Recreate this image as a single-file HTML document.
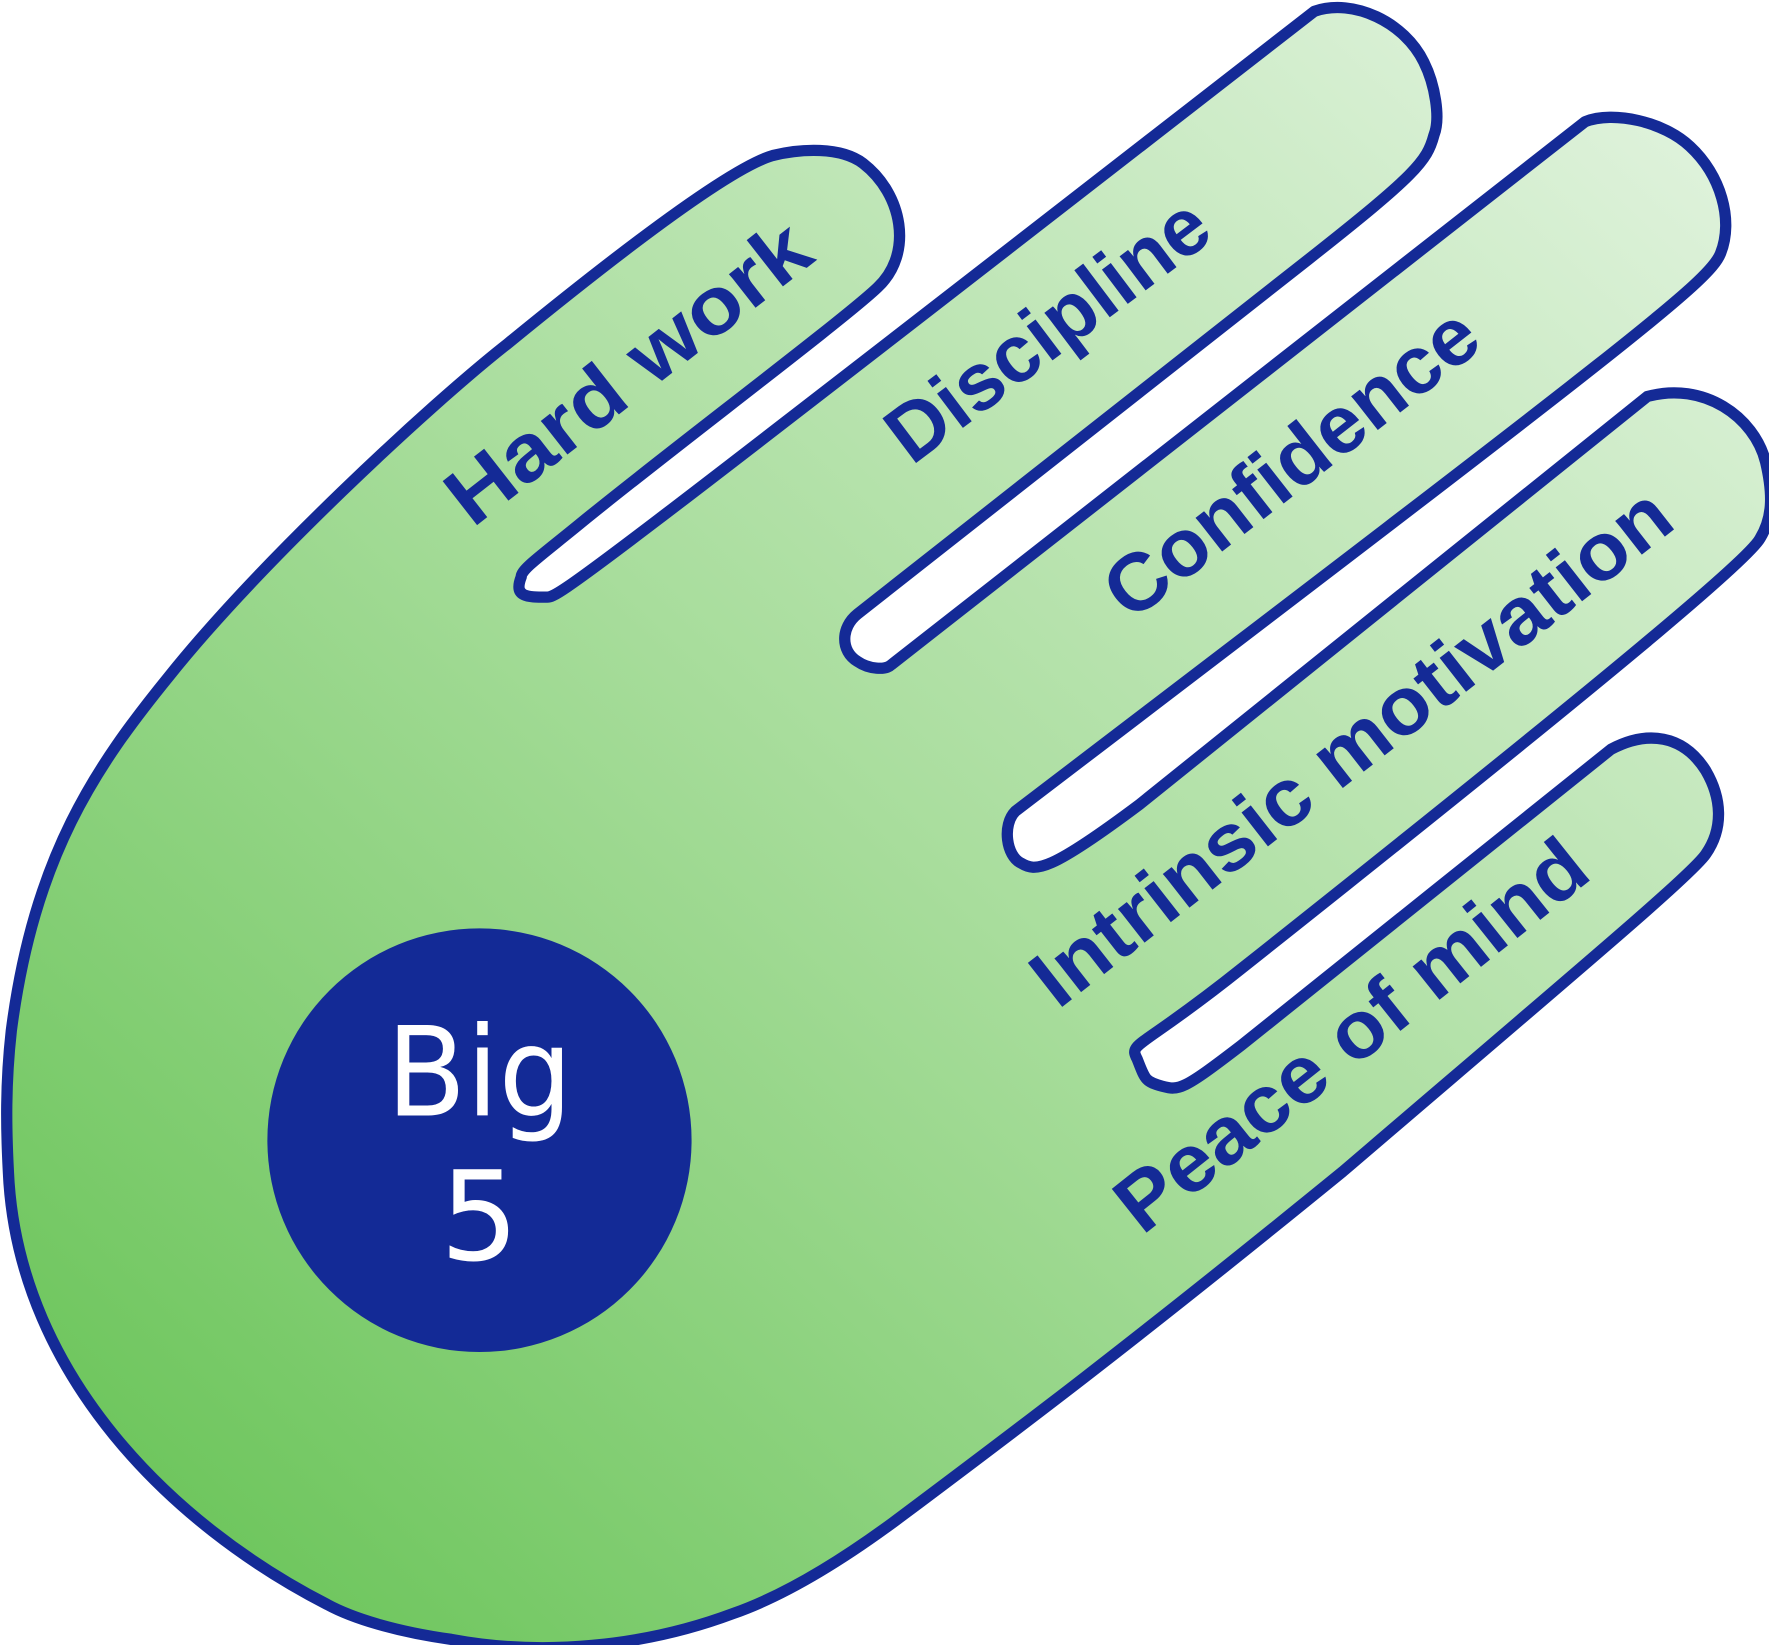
<!DOCTYPE html>
<html><head><meta charset="utf-8"><style>
html,body{margin:0;padding:0;background:#fff;}
svg{display:block;}
</style></head><body>
<svg width="1769" height="1645" viewBox="0 0 1568 1460" preserveAspectRatio="none" xmlns="http://www.w3.org/2000/svg">
<defs>
<linearGradient id="g" x1="0" y1="1" x2="1" y2="0">
<stop offset="0" stop-color="#62c150"/>
<stop offset="0.5" stop-color="#a8dd9c"/>
<stop offset="1" stop-color="#e6f5e4"/>
</linearGradient>
</defs>
<path d="M10,915 C30,760 85,680 150,600 C230,500 380,360 450,305 C560,215 650,148 685,138 C710,132 745,130 765,145 C800,172 810,225 778,255 C750,282 600,395 520,460 C480,493 462,505 462,512 C455,530 467,530 485,530 C495,530 510,520 1165,10 C1200,-2 1245,20 1262,55 C1272,75 1277,105 1271,120 C1265,143 1255,155 1160,230 L760,545 C745,557 745,578 760,587 C770,594 785,595 790,590 L1405,108 C1430,98 1475,108 1498,130 C1525,155 1537,195 1525,225 C1515,250 1450,300 900,720 C888,732 892,760 905,766 C918,774 930,774 1010,714 L1460,352 C1510,338 1555,370 1565,410 C1572,440 1571,460 1560,478 C1550,496 1440,590 1100,860 C1010,932 1000,925 1008,940 C1015,958 1015,960 1030,964 C1045,968 1048,968 1100,928 L1428,665 C1460,648 1492,652 1512,684 C1526,708 1528,735 1512,758 C1500,776 1400,860 1190,1040 C1000,1195 900,1270 800,1345 C740,1390 690,1418 650,1432 C570,1462 480,1470 400,1455 C350,1448 312,1436 290,1424 C150,1352 20,1220 8,1050 C5,1000 5,960 10,915 Z" fill="url(#g)" stroke="#142a96" stroke-width="10" stroke-linejoin="round"/>
<g font-family="'Liberation Sans', Arial, sans-serif" font-weight="700" fill="#142a96" font-size="72" text-anchor="middle">
<text transform="translate(556,330) rotate(-38)" dy="0.35em" textLength="388" lengthAdjust="spacingAndGlyphs">Hard work</text>
<text transform="translate(928,292) rotate(-37)" dy="0.35em" textLength="338" lengthAdjust="spacingAndGlyphs">Discipline</text>
<text transform="translate(1144,410) rotate(-38)" dy="0.35em" textLength="399" lengthAdjust="spacingAndGlyphs">Confidence</text>
<text transform="translate(1197,662) rotate(-38)" dy="0.35em" textLength="698" lengthAdjust="spacingAndGlyphs">Intrinsic motivation</text>
<text transform="translate(1197,918) rotate(-38.5)" dy="0.35em" textLength="512" lengthAdjust="spacingAndGlyphs">Peace of mind</text>
</g>
<circle cx="425" cy="1012" r="188" fill="#132a96"/>
<g font-family="'DejaVu Sans', sans-serif" fill="#fff" font-size="110" text-anchor="middle">
<text x="425" y="990" textLength="165" lengthAdjust="spacingAndGlyphs">Big</text>
<text x="425" y="1118">5</text>
</g>
</svg>
</body></html>
